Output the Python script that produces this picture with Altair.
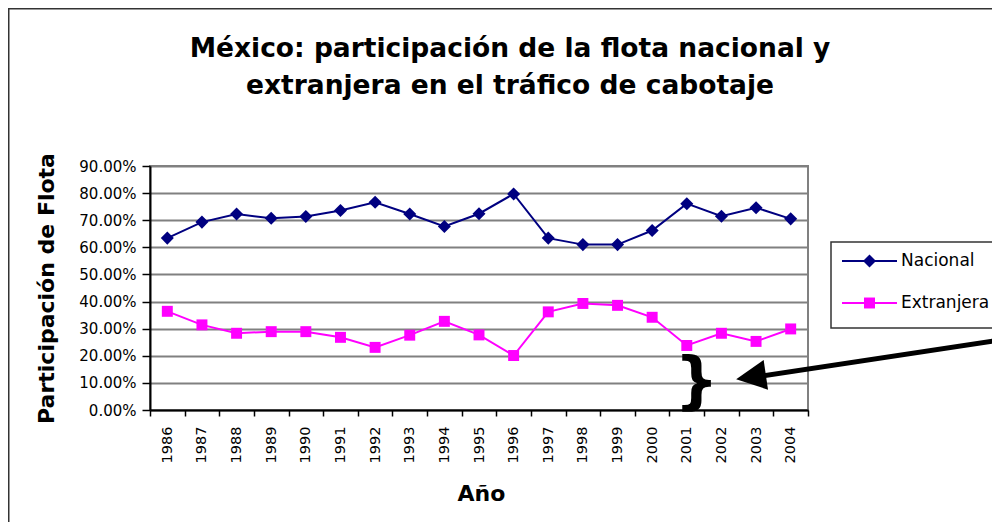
import altair as alt
import pandas as pd

# ---- data ----
years = [str(y) for y in range(1986, 2005)]
nacional = [63.4, 69.3, 72.3, 70.7, 71.4, 73.6, 76.6, 72.3, 67.7, 72.4,
            79.7, 63.4, 61.0, 61.0, 66.2, 76.1, 71.5, 74.6, 70.5]
extranjera = [36.4, 31.4, 28.3, 28.9, 28.9, 26.8, 23.1, 27.6, 32.7, 27.7,
              20.1, 36.2, 39.3, 38.6, 34.2, 23.8, 28.3, 25.3, 29.9]
series = ["Nacional", "Extranjera"]
series_colors = ["#000080", "#FF00FF"]
series_shapes = ["diamond", "square"]
series_sizes = [170, 120]
y_ticks = [0.0, 0.1, 0.2, 0.3, 0.4, 0.5, 0.6, 0.7, 0.8, 0.9]
title_lines = ["México: participación de la flota nacional y",
               "extranjera en el tráfico de cabotaje"]

rows = []
for name, vals in zip(series, [nacional, extranjera]):
    for yr, v in zip(years, vals):
        rows.append({"Año": yr, "serie": name, "valor": v / 100.0})
df = pd.DataFrame(rows)
legend_df = pd.DataFrame({"serie": series})
dummy = pd.DataFrame({"k": [0]})

FONT = "DejaVu Sans"

color_scale = alt.Scale(domain=series, range=series_colors)
shape_scale = alt.Scale(domain=series, range=series_shapes)
size_scale = alt.Scale(domain=series, range=series_sizes)

x_enc = alt.X("Año:O", scale=alt.Scale(type="band", paddingInner=0, paddingOuter=0),
              axis=alt.Axis(title="Año", labelAngle=270, labelAlign="right",
                            labelBaseline="middle", labelFontSize=14.5,
                            labelPadding=10, tickSize=6, tickBand="extent",
                            titleFontSize=22, titleFontWeight="bold",
                            titleX=331, titleY=90, titleBaseline="alphabetic",
                            grid=False))
y_enc = alt.Y("valor:Q", scale=alt.Scale(domain=[0, 0.9], nice=False),
              axis=alt.Axis(title="Participación de Flota", values=y_ticks,
                            format=".2%", labelFontSize=15, labelPadding=6,
                            tickSize=8, titleFontSize=22, titleFontWeight="bold",
                            titleX=-97, titleY=122, titleAngle=270,
                            titleBaseline="alphabetic", titleAlign="center",
                            grid=True, gridColor="#808080", gridWidth=2))

base = alt.Chart(df)
lines = base.mark_line(strokeWidth=2).encode(
    x=x_enc, y=y_enc,
    color=alt.Color("serie:N", scale=color_scale, legend=None),
    detail="serie:N",
)
points = base.mark_point(filled=True, opacity=1).encode(
    x=x_enc, y=y_enc,
    color=alt.Color("serie:N", scale=color_scale, legend=None),
    shape=alt.Shape("serie:N", scale=shape_scale, legend=None),
    size=alt.Size("serie:N", scale=size_scale, legend=None),
)

# outer chart frame
frame = alt.Chart(dummy).mark_rect(fill=None, stroke="#333333", strokeWidth=2).encode(
    x=alt.value(-141.5), x2=alt.value(900), y=alt.value(-157.5), y2=alt.value(500))

# chart title (two centred lines)
title_layers = []
for line, ty in zip(title_lines, [-109, -72]):
    title_layers.append(alt.Chart(dummy).mark_text(
        text=line, font=FONT, fontSize=26.5, fontWeight="bold", align="center",
        baseline="alphabetic", color="black").encode(x=alt.value(360), y=alt.value(ty)))

# legend box (manual, to show line + marker)
legend_box = alt.Chart(dummy).mark_rect(fill="white", stroke="#333333", strokeWidth=1.5).encode(
    x=alt.value(681), x2=alt.value(900), y=alt.value(76), y2=alt.value(162))
legend_layers = [legend_box]
legend_y = [95, 137]
for name, ly in zip(series, legend_y):
    sub = alt.Chart(legend_df).transform_filter(alt.datum.serie == name)
    legend_layers.append(sub.mark_rule(strokeWidth=2).encode(
        x=alt.value(692), x2=alt.value(747), y=alt.value(ly),
        color=alt.Color("serie:N", scale=color_scale, legend=None)))
    legend_layers.append(sub.mark_point(filled=True, opacity=1).encode(
        x=alt.value(719.5), y=alt.value(ly),
        color=alt.Color("serie:N", scale=color_scale, legend=None),
        shape=alt.Shape("serie:N", scale=shape_scale, legend=None),
        size=alt.Size("serie:N", scale=size_scale, legend=None)))
    legend_layers.append(sub.mark_text(align="left", baseline="middle", font=FONT,
                                       fontSize=17, color="black").encode(
        x=alt.value(751), y=alt.value(ly), text="serie:N"))

# annotation: brace and arrow
brace = alt.Chart(dummy).mark_text(text="}", font=FONT, fontSize=62, fontWeight="bold",
                                   align="center", baseline="middle", color="black").encode(
    x=alt.value(546.5), y=alt.value(216))
arrow_line = alt.Chart(dummy).mark_rule(strokeWidth=5, color="black").encode(
    x=alt.value(860), y=alt.value(172.5), x2=alt.value(606), y2=alt.value(211))
arrow_head = alt.Chart(dummy).mark_point(shape="M-1,0L1,-1L1,1Z", filled=True, opacity=1,
                                         size=900, angle=351.6, color="black").encode(
    x=alt.value(601), y=alt.value(211))

chart = alt.layer(frame, *title_layers, lines, points, *legend_layers,
                  arrow_line, arrow_head, brace).properties(
    width=658, height=244,
    padding={"left": 142, "top": 158, "right": 184, "bottom": 112},
    autosize=alt.AutoSizeParams(type="none"),
).configure(font=FONT, background="white").configure_view(
    stroke="#808080", strokeWidth=2
).configure_axis(
    labelFont=FONT, titleFont=FONT, labelColor="black", titleColor="black",
    domainColor="black", domainWidth=2, tickColor="black", tickWidth=1.5,
)

chart.save("out.html", embed_options={"renderer": "svg", "actions": False})
